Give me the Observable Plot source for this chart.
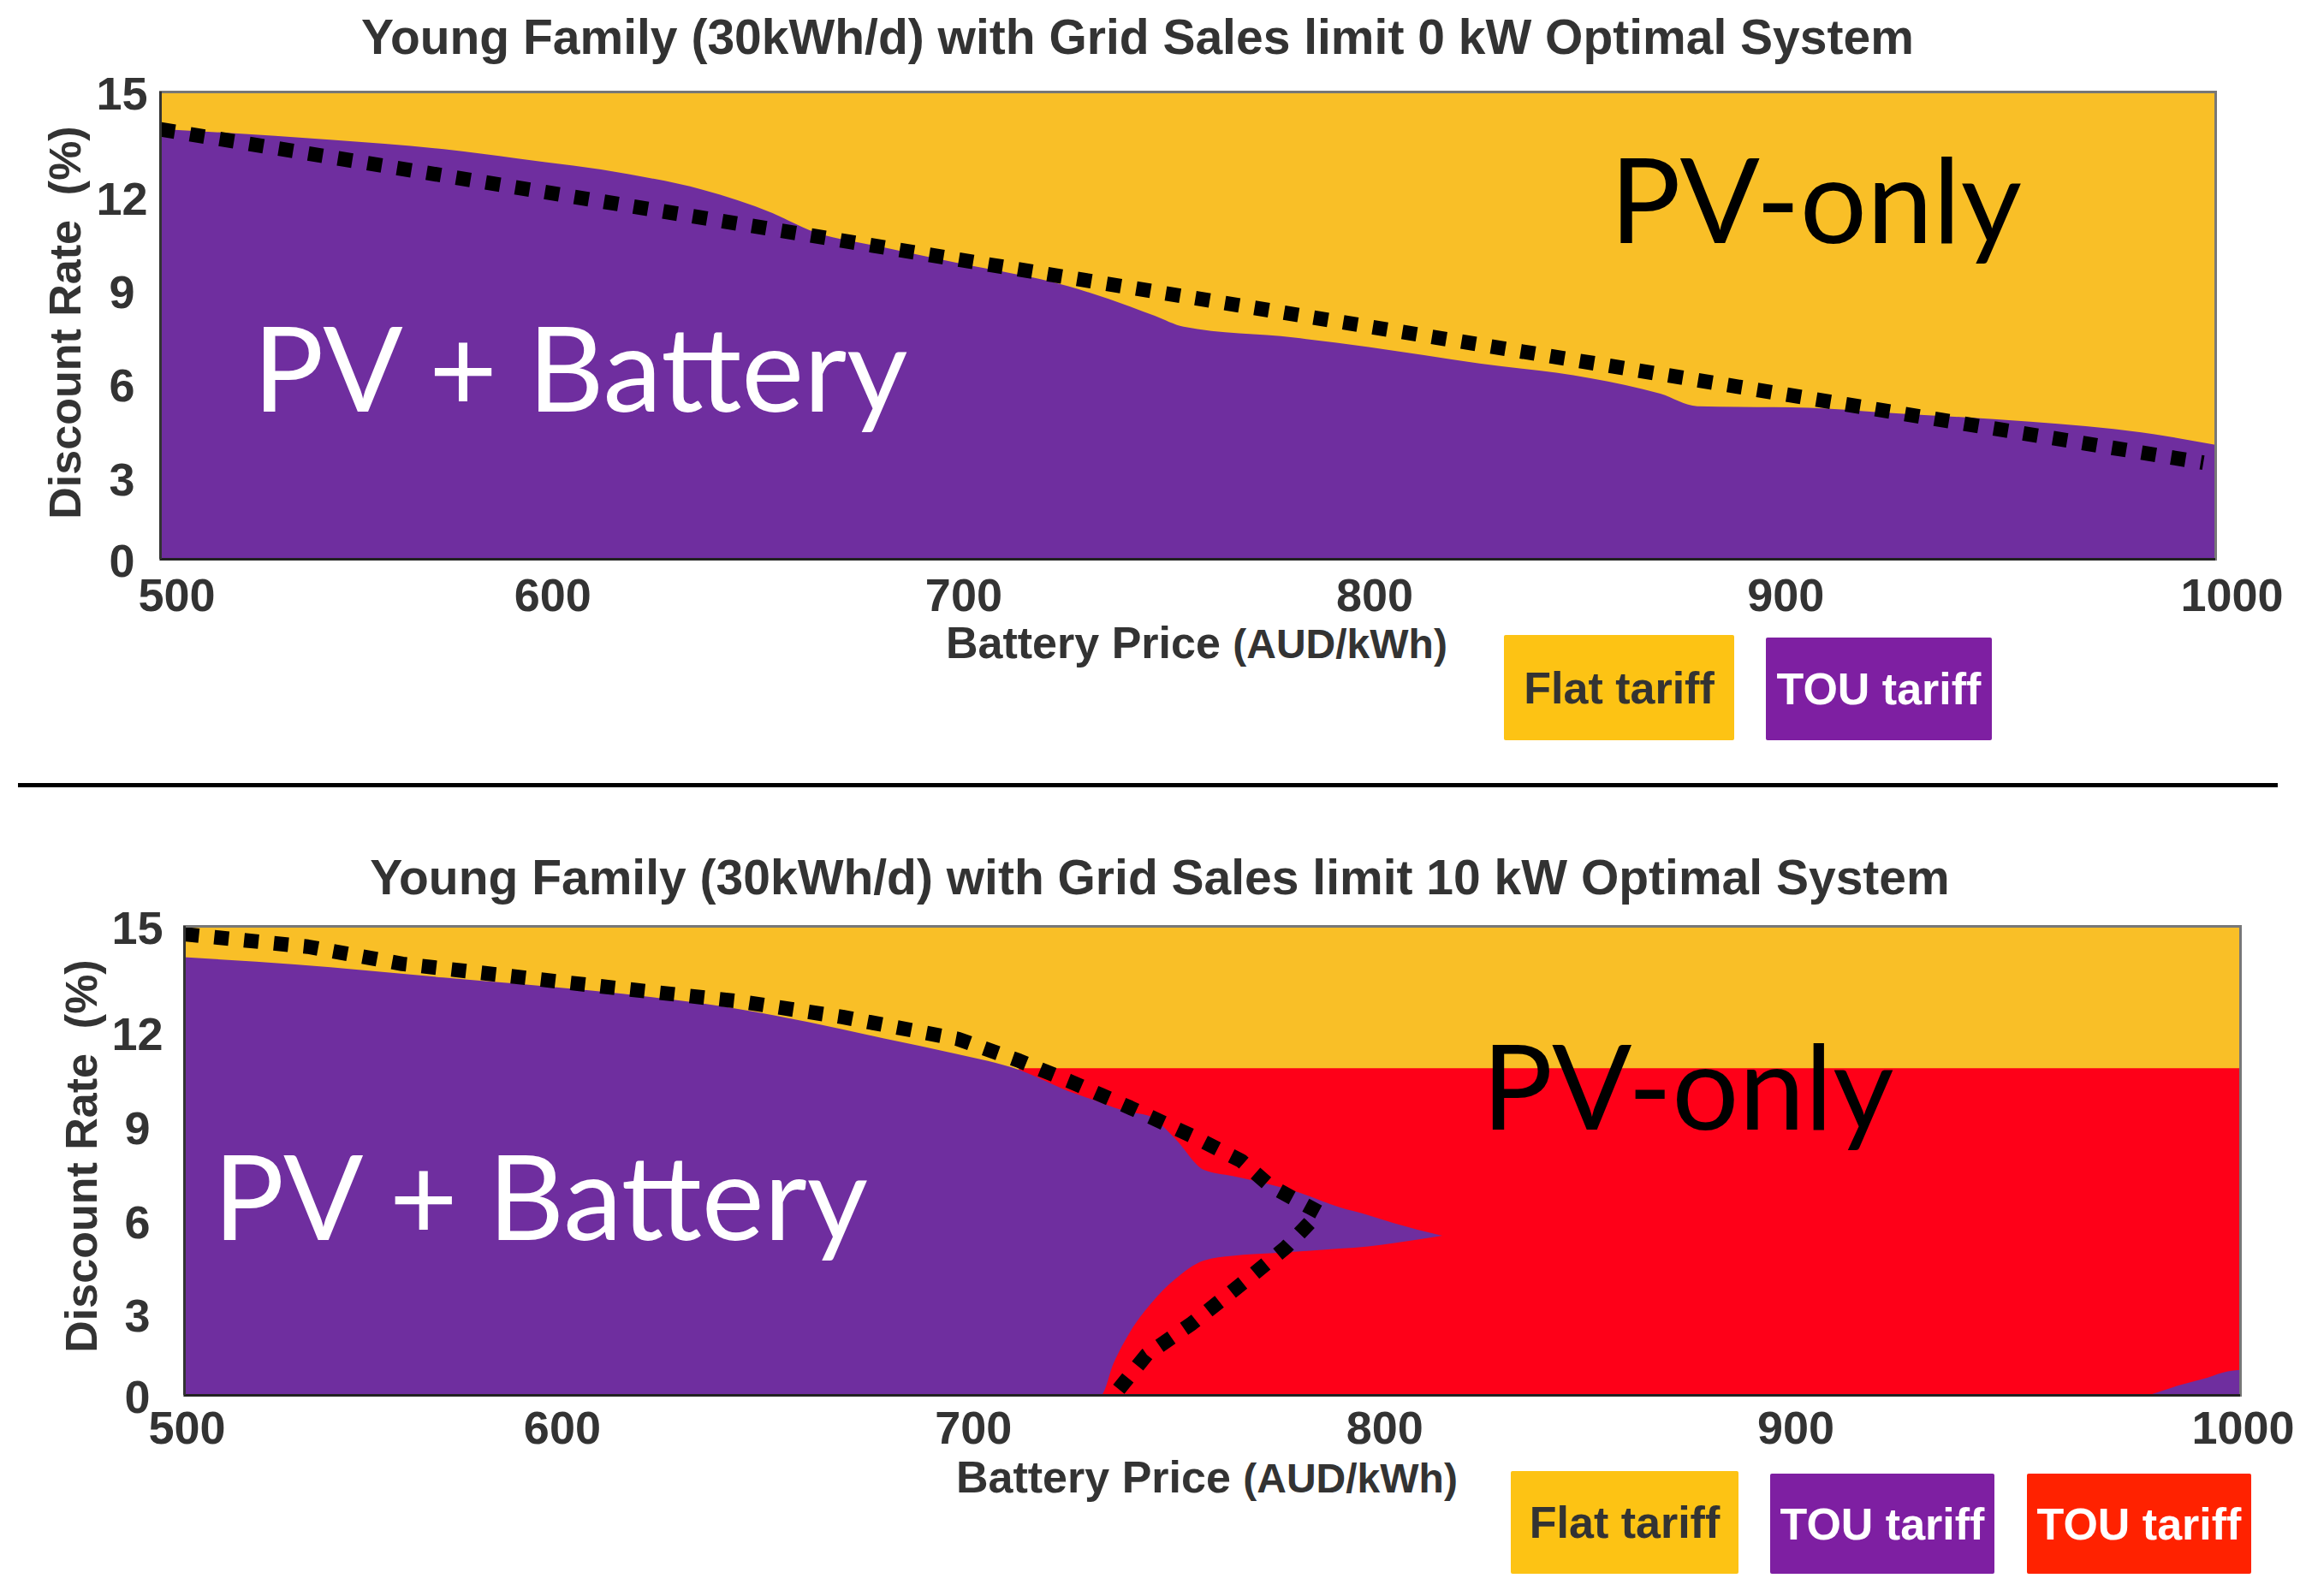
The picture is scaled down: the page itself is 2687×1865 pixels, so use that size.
<!DOCTYPE html>
<html><head><meta charset="utf-8">
<script src="https://cdn.jsdelivr.net/npm/d3@7"></script>
<script src="https://cdn.jsdelivr.net/npm/@observablehq/plot@0.6"></script>
<style>
html,body{margin:0;padding:0;background:#fff;}
#page{position:relative;width:2687px;height:1865px;overflow:hidden;background:#fff;font-family:"Liberation Sans",Arial,sans-serif;color:#333;}
.abs{position:absolute;white-space:nowrap;line-height:1;}
.title{font-weight:bold;font-size:57px;transform:translate(-50%,-50%);}
.xlab{font-weight:bold;transform:translate(0,-50%);}
.ylab{font-weight:bold;font-size:52px;transform:translate(-50%,-50%) rotate(-90deg);white-space:pre;}
.leg{position:absolute;display:flex;align-items:center;justify-content:center;font-weight:bold;font-size:52px;border-radius:2px;line-height:1;white-space:nowrap;}
.sep{position:absolute;left:21px;width:2640px;top:915px;height:5px;background:#000;}
.chart{position:absolute;left:0;}
</style></head><body>
<div id="page">
  <div class="abs title" style="left:1329px;top:43px;">Young Family (30kWh/d) with Grid Sales limit 0 kW Optimal System</div>
  <div id="chartTop" class="chart" style="top:0px;"></div>
  <div class="abs ylab" style="left:76px;top:377px;">Discount Rate  (%)</div>
  <div class="abs xlab" style="left:1105px;top:751px;"><span style="font-size:52px">Battery Price </span><span style="font-size:48px">(AUD/kWh)</span></div>
  <div class="leg" style="left:1757px;top:742px;width:269px;height:123px;background:#FDC314;color:#333;">Flat tariff</div>
  <div class="leg" style="left:2063px;top:745px;width:264px;height:120px;background:#7E1FA2;color:#fff;">TOU tariff</div>

  <div class="sep"></div>

  <div class="abs title" style="left:1355px;top:1025px;">Young Family (30kWh/d) with Grid Sales limit 10 kW Optimal System</div>
  <div id="chartBottom" class="chart" style="top:930px;"></div>
  <div class="abs ylab" style="left:95px;top:1351px;">Discount Rate  (%)</div>
  <div class="abs xlab" style="left:1117px;top:1726px;"><span style="font-size:52px">Battery Price </span><span style="font-size:48px">(AUD/kWh)</span></div>
  <div class="leg" style="left:1765px;top:1719px;width:266px;height:120px;background:#FDC314;color:#333;">Flat tariff</div>
  <div class="leg" style="left:2068px;top:1722px;width:262px;height:117px;background:#7E1FA2;color:#fff;">TOU tariff</div>
  <div class="leg" style="left:2368px;top:1722px;width:262px;height:117px;background:#FF2200;color:#fff;">TOU tariff</div>
</div>
<script>
// ---------- data ----------
const xTicks = [500, 600, 700, 800, 900, 1000];
const yTicks = [0, 3, 6, 9, 12, 15];

// Top chart (grid sales limit 0 kW): boundary between PV+Battery (TOU, below) and PV-only (Flat, above)
const topPrice    = [500, 542, 569, 587, 614, 632, 649, 658, 676, 694, 721, 736, 742, 749, 776, 794, 821, 848, 865, 874, 901, 919, 955, 982, 1000];
const topBoundary = [13.8, 13.45, 13.15, 12.85, 12.35, 11.85, 11.1, 10.55, 10.0, 9.5, 8.75, 8.1, 7.8, 7.45, 7.1, 6.8, 6.27, 5.8, 5.3, 4.9, 4.85, 4.7, 4.4, 4.06, 3.66];
// Top chart dotted trend line
const topDashPrice = [500, 997];
const topDashRate  = [13.8, 3.1];

// Bottom chart (grid sales limit 10 kW): PV+Battery (TOU) region, upper and lower edges
const botPrice = [500, 527, 563, 599, 617, 635, 652, 670, 688, 703, 715, 723, 726, 730, 735, 741, 748, 755, 760, 770, 781, 788, 794, 806];
const botUpper = [14.0, 13.77, 13.35, 12.93, 12.67, 12.34, 11.92, 11.41, 10.9, 10.4, 9.72, 9.35, 9.2, 9.05, 8.9, 8.2, 7.2, 7.0, 6.86, 6.52, 6.0, 5.75, 5.5, 5.09];
const botLower = [0, 0, 0, 0, 0, 0, 0, 0, 0, 0, 0, 0, 1.0, 2.0, 2.9, 3.7, 4.3, 4.45, 4.5, 4.58, 4.68, 4.75, 4.85, 5.09];
// PV-only with TOU tariff (red) region
const redPrice = [703, 1000];
const redTop   = [10.45, 10.45];
// small PV+Battery corner at high battery price
const blobPrice = [978, 985, 992, 997, 1000];
const blobRate  = [0, 0.3, 0.55, 0.75, 0.8];
// Bottom chart dotted trend line
const botDashPrice = [500, 530, 553, 600, 635, 660, 688, 703, 715, 730, 745, 757, 764, 776, 768, 758, 745, 734, 726];
const botDashRate  = [14.75, 14.35, 13.8, 13.1, 12.6, 12.1, 11.4, 10.7, 10.06, 9.2, 8.3, 7.5, 6.7, 5.85, 4.75, 3.66, 2.3, 1.3, 0.0];

// ---------- styles ----------
const YELLOW = "#F9BF27", PURPLE = "#6F2E9F", RED = "#FE0018";
const zip2 = (xs, ys) => xs.map((x, i) => ({x, y: ys[i]}));
const isEnd = (t, arr) => t === arr[0] || t === arr[arr.length - 1];

function chart({height, mt, mb, ml, mr, xEndDx, xInDx, xpad, ypad, yEndDy, yInDy, marks}) {
  const axX = {tickSize: 0, tickPadding: xpad, label: null, tickFormat: d => String(d), fill: "#333"};
  const axY = {tickSize: 0, tickPadding: ypad, label: null, tickFormat: d => String(d), fill: "#333", textAnchor: "middle"};
  return Plot.plot({
    width: 2687, height,
    marginTop: mt, marginBottom: mb, marginLeft: ml, marginRight: mr,
    x: {domain: [500, 1000]},
    y: {domain: [0, 15]},
    style: {fontFamily: '"Liberation Sans", Arial, sans-serif', fontSize: "54px", fontWeight: "bold", color: "#333", background: "transparent", overflow: "visible"},
    marks: [
      ...marks,
      Plot.frame({stroke: "#777", strokeWidth: 3}),
      Plot.ruleY([0], {stroke: "#222", strokeWidth: 3}),
      Plot.ruleX([500], {stroke: "#333", strokeWidth: 3}),
      Plot.axisX({...axX, ticks: xTicks.filter(t => isEnd(t, xTicks)), dx: xEndDx}),
      Plot.axisX({...axX, ticks: xTicks.filter(t => !isEnd(t, xTicks)), dx: xInDx}),
      Plot.axisY({...axY, ticks: yTicks.filter(t => isEnd(t, yTicks)), dy: yEndDy}),
      Plot.axisY({...axY, ticks: yTicks.filter(t => !isEnd(t, yTicks)), dy: yInDy})
    ]
  });
}

const labelFont = {fontFamily: "Lato, 'Open Sans', sans-serif", fontSize: 138, fontWeight: "normal", textAnchor: "start", lineAnchor: "bottom"};
const dotStyle = {stroke: "#000", strokeWidth: 17, strokeDasharray: "17 18", strokeLinecap: "butt", strokeLinejoin: "miter"};

const topSvg = chart({
  height: 740, mt: 107, mb: 87, ml: 187, mr: 99,
  xEndDx: 19, xInDx: -22, xpad: 22, ypad: 45, yEndDy: 3, yInDy: 17,
  marks: [
    Plot.frame({fill: YELLOW}),
    Plot.areaY(zip2(topPrice, topBoundary), {x: "x", y1: 0, y2: "y", fill: PURPLE, curve: "monotone-x"}),
    Plot.line(zip2(topDashPrice, topDashRate), {x: "x", y: "y", ...dotStyle}),
    Plot.text(["PV + Battery"], {x: 522.5, y: 4.75, text: d => d, fill: "#fff", ...labelFont}),
    Plot.text(["PV-only"], {x: 852.6, y: 10.16, text: d => d, fill: "#000", ...labelFont})
  ]
});
document.getElementById("chartTop").append(topSvg);

const bottomSvg = chart({
  height: 780, mt: 152, mb: 80, ml: 215, mr: 70,
  xEndDx: 3, xInDx: -39, xpad: 18, ypad: 55, yEndDy: 3, yInDy: 18,
  marks: [
    Plot.frame({fill: YELLOW}),
    Plot.areaY(zip2(redPrice, redTop), {x: "x", y1: 0, y2: "y", fill: RED}),
    Plot.areaY(botPrice.map((x, i) => ({x, lo: botLower[i], hi: botUpper[i]})), {x: "x", y1: "lo", y2: "hi", fill: PURPLE, curve: "monotone-x"}),
    Plot.areaY(zip2(blobPrice, blobRate), {x: "x", y1: 0, y2: "y", fill: PURPLE, curve: "monotone-x"}),
    Plot.line(zip2(botDashPrice, botDashRate), {x: "x", y: "y", ...dotStyle}),
    Plot.text(["PV + Battery"], {x: 507, y: 4.98, text: d => d, fill: "#fff", ...labelFont}),
    Plot.text(["PV-only"], {x: 815.5, y: 8.5, text: d => d, fill: "#000", ...labelFont})
  ]
});
document.getElementById("chartBottom").append(bottomSvg);
</script>
</body></html>
